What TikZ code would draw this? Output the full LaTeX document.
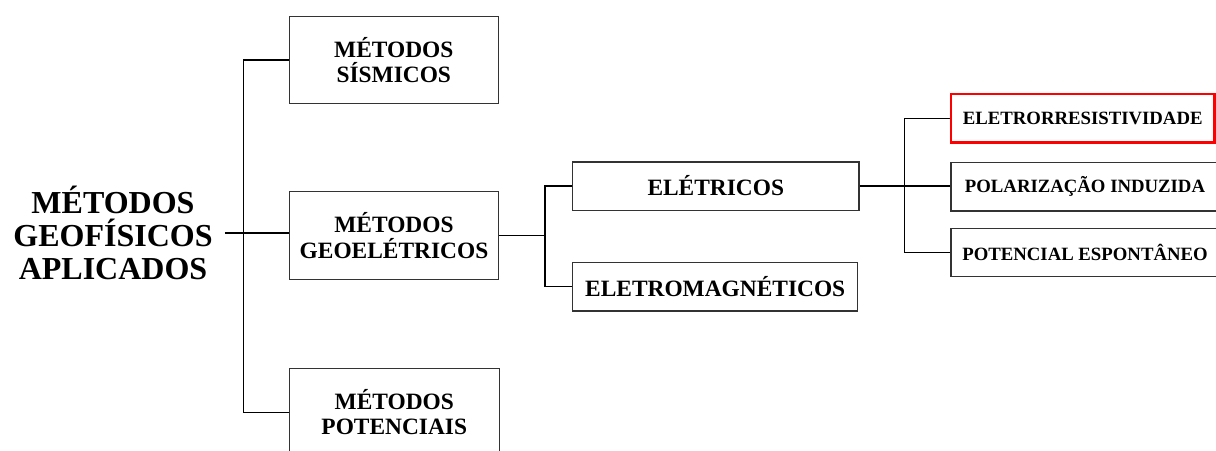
\documentclass[tikz,border=0pt]{standalone}
\usepackage{fontspec}
\setmainfont{Liberation Serif}
\begin{document}
\begin{tikzpicture}[x=1pt,y=-1pt,
  box/.style={draw=black!80, line width=1.3pt, rectangle, inner sep=0pt,
    align=center, font=\bfseries\fontsize{23.4}{25.2}\selectfont},
  leaf/.style={draw=black!80, line width=1.3pt, rectangle, inner sep=0pt,
    align=center, minimum width=268pt, minimum height=48.3pt,
    font=\bfseries\fontsize{18.75}{20}\selectfont},
  conn/.style={draw=black, line width=1.1pt}]
  \useasboundingbox (0,0) rectangle (1216,450);
  \clip (0,0) rectangle (1216,450);

  % root label
  \node[align=center, inner xsep=12pt, inner ysep=0pt,
        font=\bfseries\fontsize{32}{32.6}\selectfont] (main) at (113,233)
        {MÉTODOS\\GEOFÍSICOS\\APLICADOS};

  % first level
  \node[box, minimum width=209pt, minimum height=87pt] (sis) at (393.8,60)
        {MÉTODOS\\SÍSMICOS};
  \node[box, minimum width=209.4pt, minimum height=88pt] (geo) at (394,235.5)
        {MÉTODOS\\GEOELÉTRICOS};
  \node[box, minimum width=210pt, minimum height=88pt] (pot) at (394.3,412.3)
        {MÉTODOS\\POTENCIAIS};

  % second level
  \node[box, minimum width=286.3pt, minimum height=48.3pt] (ele) at (715.8,186)
        {ELÉTRICOS};
  \node[box, minimum width=285pt, minimum height=48.3pt] (emag) at (715.2,286.8)
        {ELETROMAGNÉTICOS};

  % third level
  \node[leaf, draw=red, line width=2.5pt, minimum width=263.5pt] (res) at (1082.75,118.2)
        {ELETRORRESISTIVIDADE};
  \node[leaf] (pol) at (1085,186.8) {POLARIZAÇÃO INDUZIDA};
  \node[leaf] (esp) at (1085,252.5) {POTENCIAL ESPONTÂNEO};

  % connectors
  \coordinate (t1) at (243.3,233);
  \draw[conn] (main.east) -- (main.east -| geo.west);
  \draw[conn] (sis.west) -| (t1) |- (pot.west);

  \coordinate (t2) at (545,235.5);
  \draw[conn] (geo.east) -- (t2);
  \draw[conn] (ele.west) -| (t2) |- (emag.west);

  \coordinate (t3) at (904.3,186.8);
  \draw[conn] (ele.east) -- (ele.east -| pol.west);
  \draw[conn] (res.west) -| (t3) |- (esp.west);
\end{tikzpicture}
\end{document}
